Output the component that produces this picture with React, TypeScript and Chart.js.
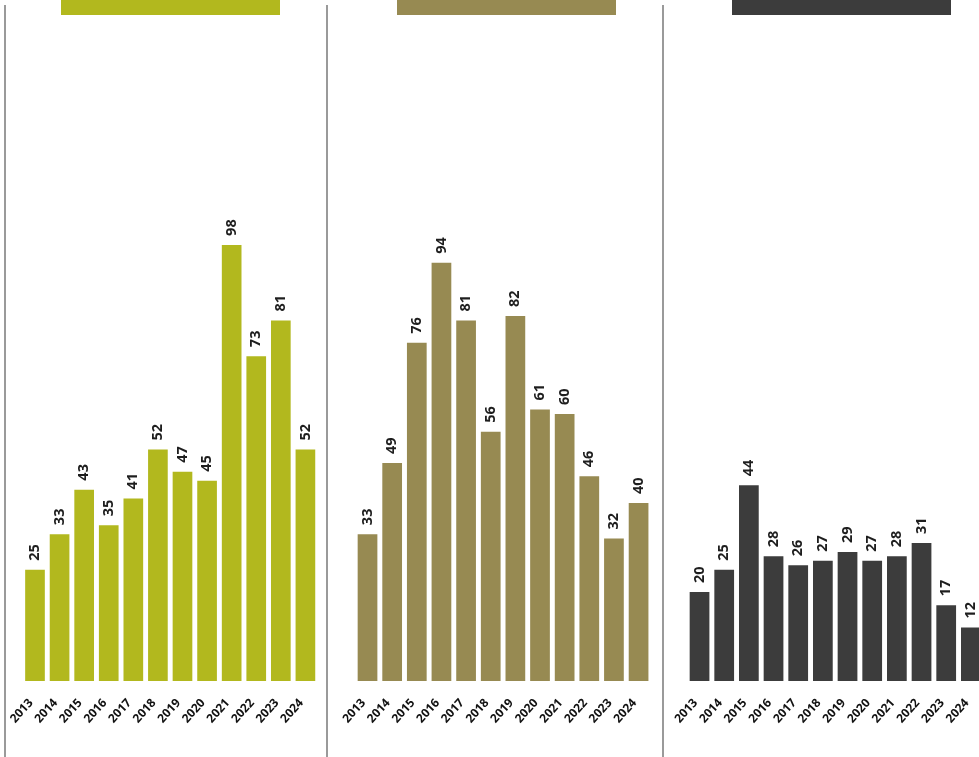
import React, { useEffect, useRef } from "react";
import { Chart, registerables } from "chart.js";
import { renderText } from "chart.js/helpers";

Chart.register(...registerables);

const years = ["2013", "2014", "2015", "2016", "2017", "2018", "2019", "2020", "2021", "2022", "2023", "2024"];
const seriesA = [25, 33, 43, 35, 41, 52, 47, 45, 98, 73, 81, 52];
const seriesB = [33, 49, 76, 94, 81, 56, 82, 61, 60, 46, 32, 40];
const seriesC = [20, 25, 44, 28, 26, 27, 29, 27, 28, 31, 17, 12];

const colorA = "#b2b81e";
const colorB = "#978a52";
const colorC = "#3c3c3c";

const FONT = "'Open Sans', 'DejaVu Sans', sans-serif";

const valueLabels = {
  id: "valueLabels",
  afterDatasetsDraw(chart: any) {
    const ctx = chart.ctx;
    const meta = chart.getDatasetMeta(0);
    const data = chart.data.datasets[0].data;
    const font = { family: FONT, size: 14.5, weight: "bold", style: "normal", lineHeight: 17, string: `bold 14.5px ${FONT}` };
    meta.data.forEach((bar: any, i: number) => {
      renderText(ctx, String(data[i]), 0, 0, font as any, {
        translation: [bar.x, bar.y - 9],
        rotation: -Math.PI / 2,
        textAlign: "left",
        textBaseline: "middle",
        color: "#1e1e1e",
      } as any);
    });
  },
};

type PanelProps = {
  values: number[];
  color: string;
  left: number;
  width: number;
  padLeft: number;
  padRight: number;
};

function Panel({ values, color, left, width, padLeft, padRight }: PanelProps) {
  const ref = useRef<HTMLCanvasElement | null>(null);
  useEffect(() => {
    if (!ref.current) return;
    const chart = new Chart(ref.current, {
      type: "bar",
      data: {
        labels: years,
        datasets: [
          {
            data: values,
            backgroundColor: color,
            borderWidth: 0,
            barPercentage: 0.8,
            categoryPercentage: 1,
          },
        ],
      },
      options: {
        responsive: false,
        animation: false,
        devicePixelRatio: 1,
        layout: { padding: { left: padLeft, right: padRight, top: 13.5, bottom: 16 } },
        plugins: { legend: { display: false }, tooltip: { enabled: false }, title: { display: false } },
        scales: {
          x: {
            grid: { display: false, drawTicks: false },
            border: { display: false },
            ticks: {
              autoSkip: false,
              minRotation: 48,
              maxRotation: 48,
              padding: 15,
              labelOffset: -4,
              color: "#111111",
              font: { family: FONT, size: 12, weight: "bold" },
            },
          },
          y: { display: false, min: 0, max: 150 },
        },
      },
      plugins: [valueLabels],
    });
    return () => chart.destroy();
  }, []);
  return (
    <canvas
      ref={ref}
      width={width}
      height={757}
      style={{ position: "absolute", left, top: 0, width, height: 757 }}
    />
  );
}

function Sep({ x }: { x: number }) {
  return <div style={{ position: "absolute", left: x, top: 5, width: 2, height: 752, background: "#9a9a9a" }} />;
}

function Header({ x, color }: { x: number; color: string }) {
  return <div style={{ position: "absolute", left: x, top: 0, width: 219, height: 15, background: color }} />;
}

export default function App() {
  return (
    <div style={{ position: "absolute", left: 0, top: 0, width: 979, height: 757, overflow: "hidden", background: "#ffffff" }}>
      <Sep x={4} />
      <Sep x={326} />
      <Sep x={662} />
      <Header x={61} color={colorA} />
      <Header x={397} color={colorB} />
      <Header x={732} color={colorC} />
      <Panel values={seriesA} color={colorA} left={-20} width={370} padLeft={42.7} padRight={32.3} />
      <Panel values={seriesB} color={colorB} left={315} width={370} padLeft={40.2} padRight={34.1} />
      <Panel values={seriesC} color={colorC} left={647} width={370} padLeft={40.2} padRight={33.8} />
    </div>
  );
}
